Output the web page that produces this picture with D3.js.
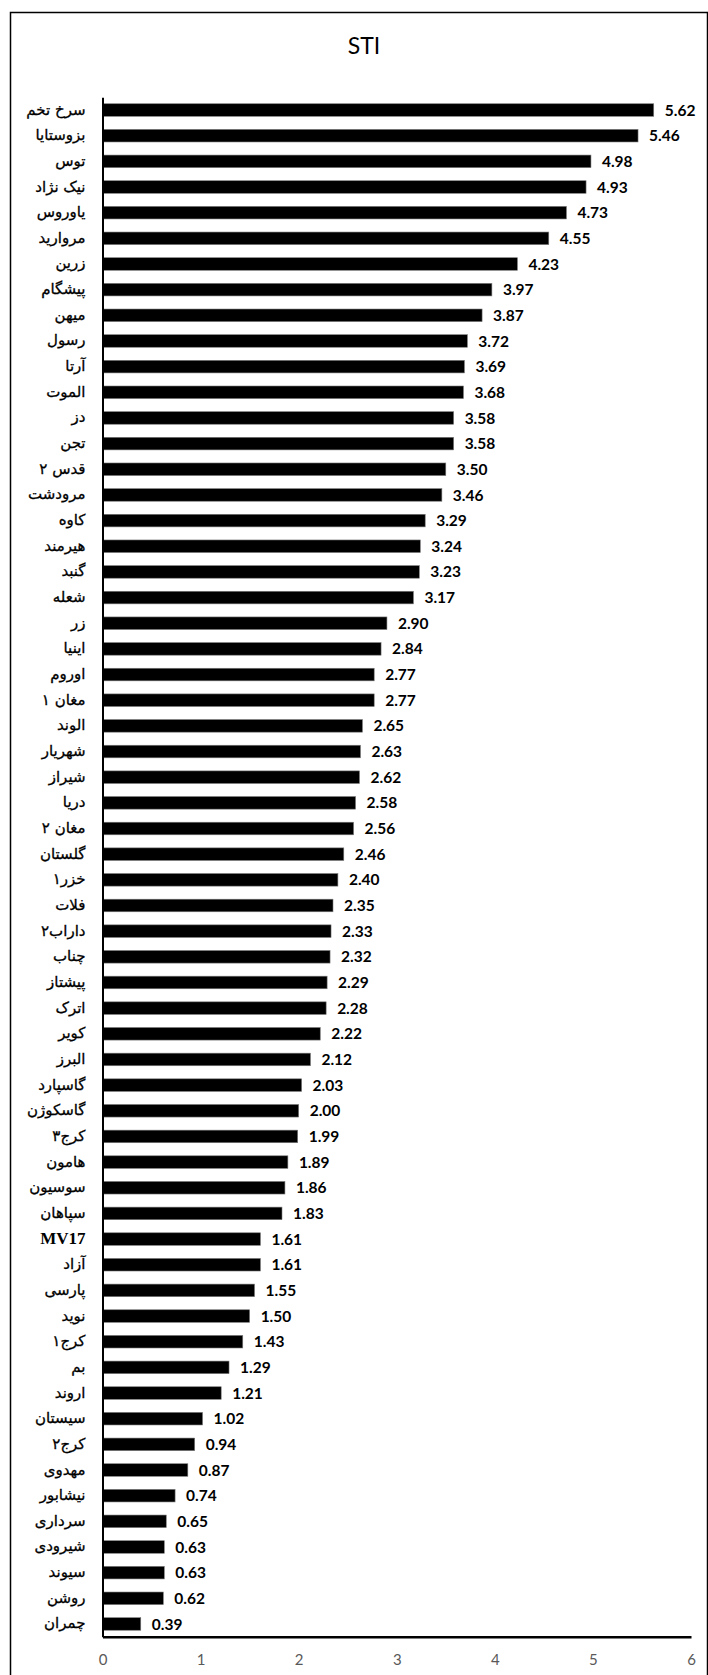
<!DOCTYPE html>
<html>
<head>
<meta charset="utf-8">
<script src="https://cdn.jsdelivr.net/npm/d3@7"></script>
<style>
  html, body { margin: 0; padding: 0; background: #fff; }
  svg { display: block; }
</style>
</head>
<body>
<svg id="chart" width="708" height="1675"></svg>
<script>
const title = "STI";
const categories = [
  "سرخ تخم","بزوستایا","توس","نیک نژاد","یاوروس","مروارید","زرین","پیشگام","میهن","رسول",
  "آرتا","الموت","دز","تجن","قدس ۲","مرودشت","کاوه","هیرمند","گنبد","شعله",
  "زر","اینیا","اوروم","مغان ۱","الوند","شهریار","شیراز","دریا","مغان ۲","گلستان",
  "خزر۱","فلات","داراب۲","چناب","پیشتاز","اترک","کویر","البرز","گاسپارد","گاسکوژن",
  "کرج۳","هامون","سوسیون","سپاهان","MV17","آزاد","پارسی","نوید","کرج۱","بم",
  "اروند","سیستان","کرج۲","مهدوی","نیشابور","سرداری","شیرودی","سیوند","روشن","چمران"
];
const values = [
  5.62,5.46,4.98,4.93,4.73,4.55,4.23,3.97,3.87,3.72,
  3.69,3.68,3.58,3.58,3.50,3.46,3.29,3.24,3.23,3.17,
  2.90,2.84,2.77,2.77,2.65,2.63,2.62,2.58,2.56,2.46,
  2.40,2.35,2.33,2.32,2.29,2.28,2.22,2.12,2.03,2.00,
  1.99,1.89,1.86,1.83,1.61,1.61,1.55,1.50,1.43,1.29,
  1.21,1.02,0.94,0.87,0.74,0.65,0.63,0.63,0.62,0.39
];
const xTicks = [0,1,2,3,4,5,6];

const data = categories.map((c, i) => ({cat: c, val: values[i]}));
const svg = d3.select("#chart");

// outer frame
svg.append("rect")
  .attr("x", 10.5).attr("y", 12.5)
  .attr("width", 697).attr("height", 1700)
  .attr("fill", "none").attr("stroke", "#000").attr("stroke-width", 1.5);

// title
svg.append("text")
  .attr("x", 364).attr("y", 54)
  .attr("text-anchor", "middle")
  .attr("font-family", "Lato, 'Open Sans', sans-serif")
  .attr("font-size", 23)
  .attr("fill", "#000")
  .text(title);

const x = d3.scaleLinear().domain([0, 6]).range([102.5, 691]);
const y = d3.scaleBand().domain(categories).range([97.2, 1636.8])
  .paddingInner(0.51).paddingOuter(0.255);

// bars
svg.append("g").selectAll("rect").data(data).join("rect")
  .attr("x", x(0))
  .attr("y", d => y(d.cat))
  .attr("width", d => x(d.val) - x(0))
  .attr("height", y.bandwidth())
  .attr("fill", "#000")
  .attr("stroke", "#7a7a7a")
  .attr("stroke-width", 0.6);

// value labels
svg.append("g").selectAll("text").data(data).join("text")
  .attr("x", d => x(d.val) + 11)
  .attr("y", d => y(d.cat) + y.bandwidth() / 2)
  .attr("dy", "0.36em")
  .attr("font-family", "Lato, 'Open Sans', sans-serif")
  .attr("font-weight", "bold")
  .attr("font-size", 15.5)
  .attr("fill", "#000")
  .text(d => d.val.toFixed(2));

// y axis
const yAxis = svg.append("g")
  .attr("transform", `translate(${x(0)},0)`)
  .call(d3.axisLeft(y).tickSize(0).tickSizeOuter(0).tickPadding(17));
yAxis.select(".domain").attr("stroke", "#000").attr("stroke-width", 2);
yAxis.selectAll(".tick text")
  .attr("fill", "#000")
  .attr("font-family", d => d === "MV17" ? "'Liberation Serif', serif" : "'DejaVu Sans', sans-serif")
  .attr("font-weight", d => d === "MV17" ? "bold" : "normal")
  .attr("font-size", d => d === "MV17" ? 17 : 15)
  .attr("stroke", d => d === "MV17" ? "none" : "#000")
  .attr("stroke-width", 0.3)
  .attr("dy", "0.3em");

// x axis
const xAxis = svg.append("g")
  .attr("transform", `translate(0,${1636.8})`)
  .call(d3.axisBottom(x).tickValues(xTicks).tickSize(0).tickSizeOuter(0).tickPadding(18).tickFormat(d3.format("d")));
xAxis.select(".domain").attr("stroke", "#000").attr("stroke-width", 2.5);
xAxis.selectAll(".tick text")
  .attr("fill", "#595959")
  .attr("font-family", "Lato, 'Open Sans', sans-serif")
  .attr("font-size", 15);
</script>
</body>
</html>
